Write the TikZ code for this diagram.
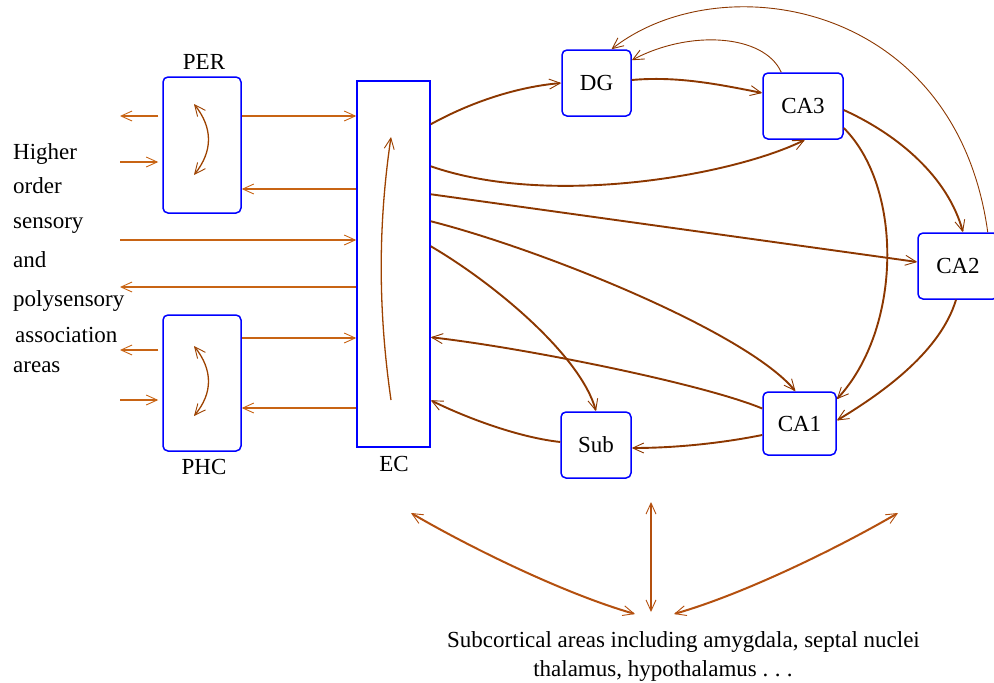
\documentclass[tikz,border=0pt]{standalone}
\usepackage{fontspec}
\setmainfont{Liberation Serif}
\usetikzlibrary{arrows.meta,calc}
\definecolor{lorange}{RGB}{200,100,20}
\definecolor{hbrown}{RGB}{140,55,0}
\definecolor{borange}{RGB}{180,80,15}
\definecolor{boxblue}{RGB}{0,0,255}
\begin{document}
\begin{tikzpicture}[x=1pt,y=-1pt,
  >={Straight Barb[length=11pt,width=10pt,line width=0.9pt]},
  lbl/.style={font=\fontsize{23}{28}\selectfont, inner sep=0pt},
  area/.style={draw=boxblue, line width=1.5pt, rounded corners=5pt, inner sep=0pt, font=\fontsize{23}{28}\selectfont},
  oarr/.style={draw=lorange, line width=2.4pt, ->},
  harr/.style={draw=hbrown, line width=1.9pt, ->},
  thinarr/.style={draw=hbrown, line width=0.9pt, ->},
  inarr/.style={draw=hbrown!85!orange, line width=1.3pt},
  barr/.style={draw=borange, line width=2pt, <->}]
\useasboundingbox (0,0) rectangle (994,683);

% boxes
\node[area, minimum width=78pt, minimum height=136pt] (PER) at (202,145) {};
\node[area, minimum width=78pt, minimum height=136pt] (PHC) at (202,383) {};
\node[area, rounded corners=0pt, minimum width=73pt, minimum height=366pt] (EC) at (393.5,264) {};
\node[area, minimum width=69pt, minimum height=66pt] (DG) at (596.5,83) {DG};
\node[area, minimum width=80pt, minimum height=66pt] (CA3) at (803,106) {CA3};
\node[area, minimum width=80pt, minimum height=66pt] (CA2) at (958,266) {CA2};
\node[area, minimum width=73pt, minimum height=63pt] (CA1) at (799.5,423.5) {CA1};
\node[area, minimum width=70pt, minimum height=66pt] (Sub) at (596,445) {Sub};

% labels
\node[lbl] (perl) at (204,62) {PER};
\node[lbl] (phcl) at (204,467) {PHC};
\node[lbl] (ecl) at (394,464) {EC};
\node[lbl, anchor=base west] (t1) at (13,159) {Higher};
\node[lbl, anchor=base west] (t2) at (13,193) {order};
\node[lbl, anchor=base west] (t3) at (13,228) {sensory};
\node[lbl, anchor=base west] (t4) at (13,267) {and};
\node[lbl, anchor=base west] (t5) at (13,306) {polysensory};
\node[lbl, anchor=base west] (t6) at (15,342) {association};
\node[lbl, anchor=base west] (t7) at (13,372) {areas};
\node[lbl, anchor=base] (s1) at (683.5,647) {Subcortical areas including amygdala, septal nuclei};
\node[lbl, anchor=base] (s2) at (663,676) {thalamus, hypothalamus .\kern0.28em.\kern0.28em.};

% free ends on the left
\coordinate (o1) at (120,116);
\coordinate (i1) at (120,162);
\coordinate (i2) at (120,240);
\coordinate (o2) at (120,287);
\coordinate (o3) at (120,350);
\coordinate (i3) at (120,400);

\draw[oarr, shorten <=4pt] (PER.west |- o1) -- (o1);
\draw[oarr, shorten >=4pt] (i1) -- (PER.west |- i1);
\draw[oarr] (i2) -- (EC.west |- i2);
\draw[oarr] (EC.west |- o2) -- (o2);
\draw[oarr, shorten <=4pt] (PHC.west |- o3) -- (o3);
\draw[oarr, shorten >=4pt] (i3) -- (PHC.west |- i3);

\draw[oarr] ([yshift=29pt]PER.east) -- ([yshift=29pt]PER.east -| EC.west);
\draw[oarr] ([yshift=-44pt]PER.east -| EC.west) -- ([yshift=-44pt]PER.east);
\draw[oarr] ([yshift=45pt]PHC.east) -- ([yshift=45pt]PHC.east -| EC.west);
\draw[oarr] ([yshift=-25pt]PHC.east -| EC.west) -- ([yshift=-25pt]PHC.east);

% inner arrows
\draw[inarr, <->] (194,104) .. controls (213,128) and (213,151) .. (194,175);
\draw[inarr, <->] (194,346) .. controls (213,370) and (213,393) .. (194,416);
\draw[inarr, ->] (391,400) .. controls (378,310) and (378,225) .. (391,137);

% hippocampal connections
\draw[harr] ([yshift=-44pt]EC.north east) .. controls +(40,-22) and +(-45,4) .. (DG.west);
\draw[harr] ([yshift=3pt]DG.east) .. controls +(45,-4) and +(-45,-9) .. ([yshift=13pt]CA3.west);
\draw[harr] ([yshift=-86pt]EC.north east) .. controls +(120,42) and +(-70,35) .. ([xshift=2pt]CA3.south);
\draw[harr] ([yshift=-114pt]EC.north east) -- ([yshift=4pt]CA2.west);
\draw[harr] ([yshift=-141pt]EC.north east) .. controls +(110,28) and +(-50,-60) .. ([xshift=-4pt]CA1.north);
\draw[harr] ([yshift=-166pt]EC.north east) .. controls +(65,38) and +(-15,-55) .. (Sub.north);
\draw[harr] ([yshift=15pt]CA1.west) .. controls +(-60,-25) and +(90,10) .. ([yshift=-257pt]EC.north east);
\draw[harr] ([yshift=3pt]Sub.west) .. controls +(-45,-5) and +(30,15) .. ([yshift=-320pt]EC.north east);
\draw[harr] ([yshift=-11.5pt]CA1.west) .. controls +(-45,9) and +(40,0) .. ([yshift=-3pt]Sub.east);
\draw[harr] ([yshift=-4pt]CA3.east) .. controls +(55,25) and +(-15,-55) .. ([xshift=5pt]CA2.north);
\draw[harr] ([yshift=-22pt]CA3.east) .. controls +(60,60) and +(65,-70) .. ([yshift=-8pt]CA1.north east);
\draw[harr] ([xshift=-2pt]CA2.south) .. controls +(-15,50) and +(50,-30) .. ([yshift=3pt]CA1.east);
\draw[thinarr] ([xshift=-11pt]CA2.north east) .. controls +(-32,-233) and +(108,-85) .. ([xshift=15pt]DG.north);
\draw[thinarr] ([xshift=19pt]CA3.north west) .. controls +(-17,-38) and +(58,-31) .. ([yshift=-11pt]DG.north east);

% subcortical arrows
\coordinate (bl) at (411,513);
\coordinate (blc) at (635,614);
\coordinate (bm) at (651,502);
\coordinate (bmc) at (651,612);
\coordinate (br) at (898,513);
\coordinate (brc) at (674,614);
\draw[barr] (bl) .. controls +(60,35) and +(-70,-20) .. (blc);
\draw[barr] (bm) -- (bmc);
\draw[barr] (brc) .. controls +(70,-20) and +(-60,35) .. (br);
\end{tikzpicture}
\end{document}
